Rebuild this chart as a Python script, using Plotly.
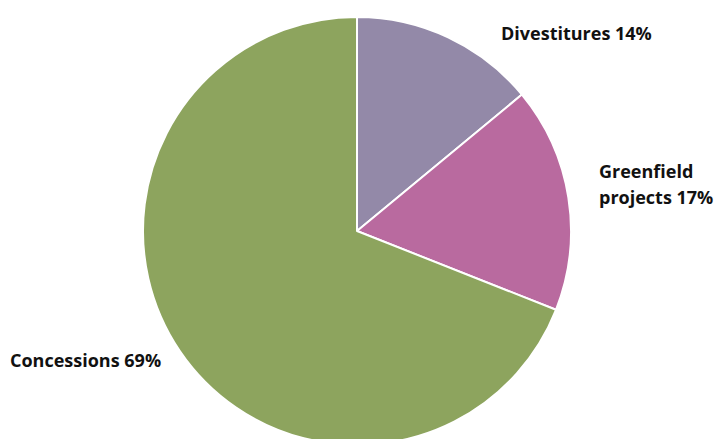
import plotly.graph_objects as go

# Share of investment by type
categories = ["Divestitures", "Greenfield projects", "Concessions"]
shares = [14, 17, 69]
colors = ["#9389A8", "#B96A9F", "#8DA45E"]

W, H = 722, 445  # figure is slightly taller than the window; the pie runs off the bottom edge

fig = go.Figure(
    go.Pie(
        labels=categories,
        values=shares,
        sort=False,
        direction="clockwise",
        rotation=0,
        marker=dict(colors=colors, line=dict(color="white", width=2)),
        textinfo="none",
        hoverinfo="label+percent",
        domain=dict(x=[143 / W, 571 / W], y=[0, 1 - 17 / H]),
        showlegend=False,
    )
)

label_font = dict(family="Open Sans", size=18, color="#111111")


def label(text, px, py):
    fig.add_annotation(
        text=f"<b>{text}</b>", x=px / W, y=1 - py / H, xref="paper", yref="paper",
        xanchor="left", yanchor="middle", align="left", showarrow=False,
        font=label_font,
    )


label(f"{categories[0]} {shares[0]}%", 499, 33)
first, second = categories[1].split(" ")
label(first, 597, 171)
label(f"{second} {shares[1]}%", 597, 197)
label(f"{categories[2]} {shares[2]}%", 8, 360)

fig.update_layout(
    width=W, height=H,
    margin=dict(l=0, r=0, t=0, b=0),
    paper_bgcolor="white", plot_bgcolor="white",
)

fig.write_html(
    "out.html",
    post_script="document.body.style.overflow='hidden';document.documentElement.style.overflow='hidden';",
)
